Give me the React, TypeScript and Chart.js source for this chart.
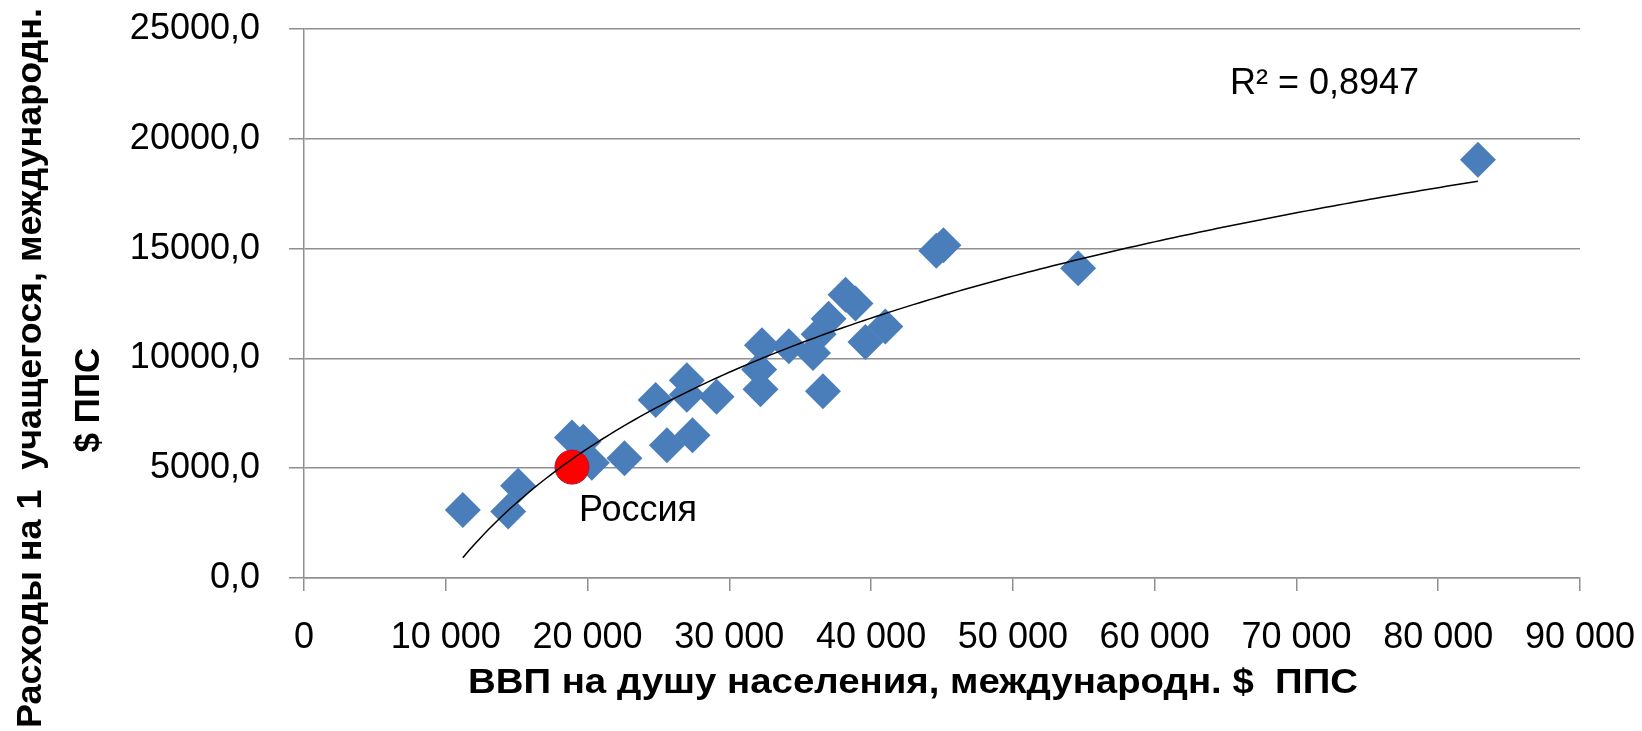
import React, { useEffect, useRef } from "react";
import { Chart, registerables } from "chart.js";

Chart.register(...registerables);

// ---- Data ----
const gdpPerCapita = [
  11200, 14400, 15100, 18900, 19700, 20300, 22600, 25600, 27400, 24800,
  27000, 27000, 29100, 32300, 32100, 32200, 34200, 35900, 36600, 37000,
  36300, 38200, 38900, 39600, 41000, 44600, 45100, 54600, 82800,
];
const spendingPerStudent = [
  3100, 3030, 4200, 6400, 6200, 5250, 5450, 6050, 6500, 8100,
  9000, 8350, 8250, 10600, 9500, 8600, 10550, 10250, 8500, 11800,
  11100, 12900, 12500, 10750, 11450, 14900, 15150, 14100, 19050,
];
const russiaGdp = [18900];
const russiaSpending = [5050];
const russiaLabel = "Россия";
const rSquaredLabel = "R² = 0,8947";

const xTickLabels = ["0", "10 000", "20 000", "30 000", "40 000", "50 000", "60 000", "70 000", "80 000", "90 000"];
const yTickLabels = ["0,0", "5000,0", "10000,0", "15000,0", "20000,0", "25000,0"];
const xTitle = "ВВП на душу населения, международн. $  ППС";
const yTitleLines = ["Расходы на 1  учащегося, международн.", "$ ППС"];

const FONT = '"Liberation Sans", Arial, "Noto Sans", sans-serif';

// logarithmic trend line (least squares y = a ln x + b) from the blue series
function logFit(xs: number[], ys: number[]) {
  const n = xs.length;
  const lx = xs.map((v) => Math.log(v));
  const mx = lx.reduce((s, v) => s + v, 0) / n;
  const my = ys.reduce((s, v) => s + v, 0) / n;
  let sxy = 0, sxx = 0;
  for (let i = 0; i < n; i++) {
    sxy += (lx[i] - mx) * (ys[i] - my);
    sxx += (lx[i] - mx) * (lx[i] - mx);
  }
  const a = sxy / sxx;
  return { a, b: my - a * mx };
}

function drawFittedText(
  ctx: CanvasRenderingContext2D,
  text: string,
  cx: number,
  cy: number,
  size: number,
  bold: boolean,
  targetWidth: number | null,
  rotate: boolean
) {
  ctx.save();
  ctx.font = `${bold ? "bold " : ""}${size}px ${FONT}`;
  ctx.fillStyle = "#000";
  ctx.textAlign = "center";
  ctx.textBaseline = "alphabetic";
  ctx.translate(cx, cy);
  if (rotate) ctx.rotate(-Math.PI / 2);
  if (targetWidth) {
    const w = ctx.measureText(text).width;
    ctx.scale(targetWidth / w, 1);
  }
  ctx.fillText(text, 0, size * 0.358);
  ctx.restore();
}

export default function App() {
  const ref = useRef<HTMLCanvasElement>(null);

  useEffect(() => {
    const canvas = ref.current;
    if (!canvas) return;
    const { a, b } = logFit(gdpPerCapita, spendingPerStudent);
    const minX = Math.min(...gdpPerCapita);
    const maxX = Math.max(...gdpPerCapita);
    const trend: { x: number; y: number }[] = [];
    const N = 160;
    for (let i = 0; i <= N; i++) {
      const x = minX + ((maxX - minX) * i) / N;
      trend.push({ x, y: a * Math.log(x) + b });
    }

    const textPlugin = {
      id: "customTexts",
      afterDraw(chart: any) {
        const ctx = chart.ctx as CanvasRenderingContext2D;
        const xs = chart.scales.x;
        const ys = chart.scales.y;
        // Russia label
        const px = xs.getPixelForValue(russiaGdp[0]);
        const py = ys.getPixelForValue(russiaSpending[0]);
        ctx.save();
        ctx.font = `36px ${FONT}`;
        ctx.fillStyle = "#000";
        ctx.textAlign = "left";
        ctx.textBaseline = "alphabetic";
        ctx.fillText(russiaLabel, px + 7, py + 41 + 36 * 0.358);
        // R² label
        ctx.fillText(rSquaredLabel, 1230, 81 + 36 * 0.358);
        ctx.restore();
        // axis titles
        drawFittedText(ctx, xTitle, 913, 680, 35, true, 890, false);
        drawFittedText(ctx, yTitleLines[0], 28, 368, 35, true, 720, true);
        drawFittedText(ctx, yTitleLines[1], 86, 400, 35, true, null, true);
      },
    };

    const chart = new Chart(canvas, {
      type: "scatter",
      data: {
        datasets: [
          {
            label: "trend",
            data: trend,
            showLine: true,
            borderColor: "#000000",
            borderWidth: 1.5,
            pointRadius: 0,
            fill: false,
          },
          {
            label: russiaLabel,
            data: russiaGdp.map((x, i) => ({ x, y: russiaSpending[i] })),
            pointStyle: "circle",
            pointRadius: 17,
            backgroundColor: "#ff0000",
            borderColor: "#b3122e",
            borderWidth: 1,
          },
          {
            label: "countries",
            data: gdpPerCapita.map((x, i) => ({ x, y: spendingPerStudent[i] })),
            pointStyle: "rectRot",
            pointRadius: 18,
            backgroundColor: "#4a7ebb",
            borderColor: "#4a7ebb",
            borderWidth: 0,
          },
        ],
      },
      options: {
        responsive: false,
        animation: false,
        devicePixelRatio: 1,
        layout: { padding: { top: 29, right: 62, left: 0, bottom: 0 } },
        plugins: {
          legend: { display: false },
          tooltip: { enabled: false },
          title: { display: false },
        },
        scales: {
          x: {
            type: "linear",
            min: 0,
            max: 90000,
            afterFit: (s: any) => {
              s.height = 153;
              s.paddingLeft = 0;
              s.paddingRight = 0;
            },
            ticks: {
              stepSize: 10000,
              autoSkip: false,
              maxRotation: 0,
              padding: 25,
              color: "#000",
              font: { family: FONT, size: 36 },
              callback: (v: any) => xTickLabels[Math.round(Number(v) / 10000)],
            },
            grid: {
              drawOnChartArea: false,
              drawTicks: true,
              tickLength: 13,
              color: "#8f8f8f",
              lineWidth: 1.5,
            },
            border: { display: true, color: "#8f8f8f", width: 1.5 },
          },
          y: {
            type: "linear",
            min: 0,
            max: 25000,
            afterFit: (s: any) => {
              s.width = 304;
              s.paddingTop = 0;
              s.paddingBottom = 0;
            },
            ticks: {
              stepSize: 5000,
              padding: 29,
              color: "#000",
              font: { family: FONT, size: 36 },
              callback: (v: any) => yTickLabels[Math.round(Number(v) / 5000)],
            },
            grid: {
              drawTicks: true,
              tickLength: 15,
              color: "#8f8f8f",
              lineWidth: 1.5,
            },
            border: { display: true, color: "#8f8f8f", width: 1.5 },
          },
        },
      },
      plugins: [textPlugin],
    } as any);

    return () => chart.destroy();
  }, []);

  return (
    <div style={{ position: "absolute", left: 0, top: 0, width: 1642, height: 731, background: "#fff" }}>
      <canvas ref={ref} width={1642} height={731} style={{ display: "block" }} />
    </div>
  );
}
